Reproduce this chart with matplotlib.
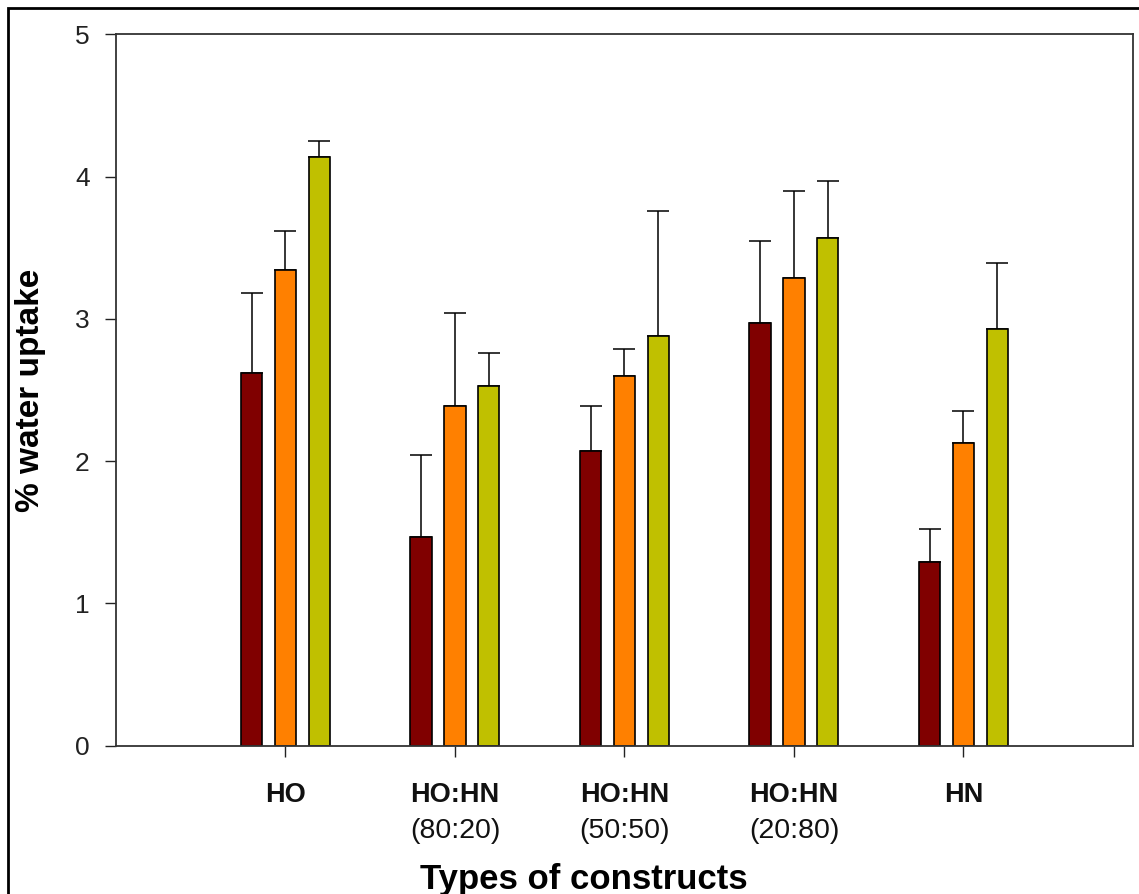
import matplotlib
matplotlib.use("Agg")
import matplotlib.pyplot as plt
from matplotlib.patches import Rectangle
import numpy as np

plt.rcParams["font.family"] = ["Liberation Sans", "DejaVu Sans"]

constructs = ["HO", "HO:HN", "HO:HN", "HO:HN", "HN"]
ratios = ["", "(80:20)", "(50:50)", "(20:80)", ""]

# mean % water uptake per construct, three groups
uptake_a = [2.62, 1.47, 2.07, 2.97, 1.29]
uptake_b = [3.34, 2.39, 2.60, 3.29, 2.13]
uptake_c = [4.14, 2.53, 2.88, 3.57, 2.93]

# standard deviations (upper bars only)
err_a = [0.56, 0.57, 0.32, 0.58, 0.23]
err_b = [0.28, 0.65, 0.19, 0.61, 0.22]
err_c = [0.11, 0.23, 0.88, 0.40, 0.46]

colors = ["#800000", "#FF8000", "#C0C000"]

fig = plt.figure(figsize=(11.39, 8.94), dpi=100)
ax = fig.add_axes([0.1018, 0.1659, 0.8929, 0.7957])

x = np.arange(1, len(constructs) + 1)
offset = 0.2
width = 0.125

series = [(uptake_a, err_a), (uptake_b, err_b), (uptake_c, err_c)]
for i, (vals, errs) in enumerate(series):
    pos = x + (i - 1) * offset
    ax.bar(pos, vals, width=width, color=colors[i], edgecolor="black",
           linewidth=1.2, zorder=2)
    ax.errorbar(pos, vals, yerr=[np.zeros(len(errs)), errs], fmt="none",
                ecolor="black", elinewidth=1.1, capsize=8, capthick=1.1,
                zorder=1)

ax.set_xlim(0, 6)
ax.set_ylim(0, 5)
ax.set_yticks([0, 1, 2, 3, 4, 5])
ax.set_xticks(x)
ax.set_xticklabels([])
ax.tick_params(axis="both", direction="out", length=8, width=1.0,
               colors="#222222")
ax.tick_params(axis="y", labelsize=19, pad=11, labelcolor="#222222")

for spine in ax.spines.values():
    spine.set_linewidth(1.3)
    spine.set_color("#333333")

trans = ax.get_xaxis_transform()
for xi, name, ratio in zip(x, constructs, ratios):
    ax.text(xi, -0.069, name, transform=trans, ha="center", va="center",
            fontsize=19.5, fontweight="bold", color="#111111")
    if ratio:
        ax.text(xi, -0.12, ratio, transform=trans, ha="center", va="center",
                fontsize=20.5, color="#111111")

fig.text(31 / 1139, 1 - 390 / 894, "% water uptake", rotation=90,
         ha="center", va="center", fontsize=24, fontweight="bold")

fig.text(584 / 1139, 1 - 889 / 894, "Types of constructs", ha="center",
         va="baseline", fontsize=25, fontweight="bold")

# thin frame around the whole figure
fig.patches.append(Rectangle((7.5 / 1139, -0.05), 1.1, 1 - 8 / 894 + 0.05,
                             transform=fig.transFigure, fill=False,
                             edgecolor="black", linewidth=2.0))

fig.savefig("out.png", dpi=100)
